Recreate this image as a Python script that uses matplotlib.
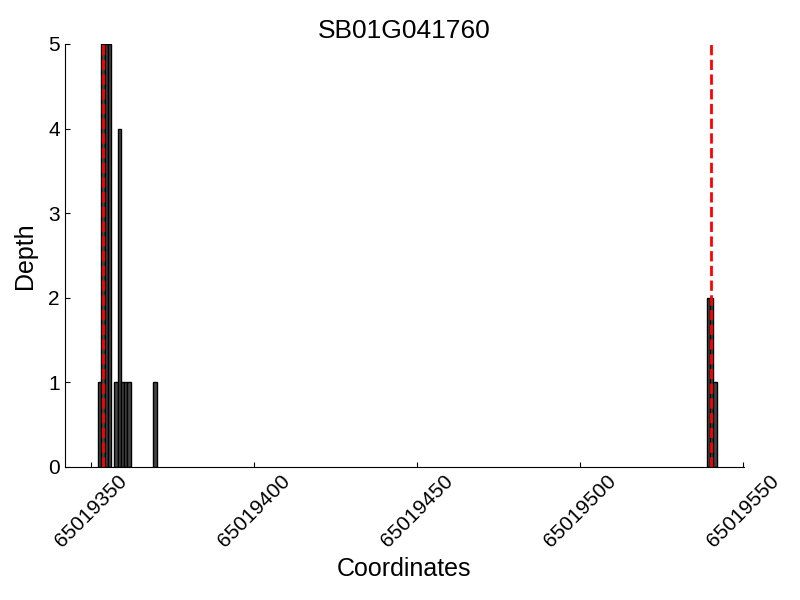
import matplotlib
matplotlib.use('Agg')
import matplotlib.pyplot as plt

plt.rcParams['font.family'] = ['Liberation Sans', 'DejaVu Sans']

# per-base depth (start coordinate, depth)
positions = [65019352, 65019353, 65019354, 65019355, 65019357, 65019358,
             65019359, 65019360, 65019361, 65019369,
             65019539, 65019540, 65019541]
depths = [1, 5, 5, 5, 1, 4, 1, 1, 1, 1, 2, 2, 1]

# gene boundaries
gene_bounds = [65019353.55, 65019540.4]

fig = plt.figure(figsize=(8, 6), dpi=100)
ax = fig.add_axes([0.081, 0.2217, 0.849, 0.705])

ax.bar(positions, depths, width=1, align='edge', color='0.27',
       edgecolor='black', linewidth=1)
for g in gene_bounds:
    ax.axvline(g, color='red', linestyle='--', linewidth=2)

ax.set_xlim(65019341.8, 65019550.4)
ax.set_ylim(0, 5)
ax.set_xticks([65019350, 65019400, 65019450, 65019500, 65019550])
ax.set_xticklabels(['65019350', '65019400', '65019450', '65019500', '65019550'],
                   rotation=45, ha='center')
ax.tick_params(direction='in', labelsize=15)
ax.spines['top'].set_visible(False)
ax.spines['right'].set_visible(False)

ax.set_title('SB01G041760', fontsize=19, pad=4)
ax.set_xlabel('Coordinates', fontsize=18, labelpad=4)
ax.set_ylabel('Depth', fontsize=18, labelpad=8)

fig.savefig('out.png', dpi=100)
